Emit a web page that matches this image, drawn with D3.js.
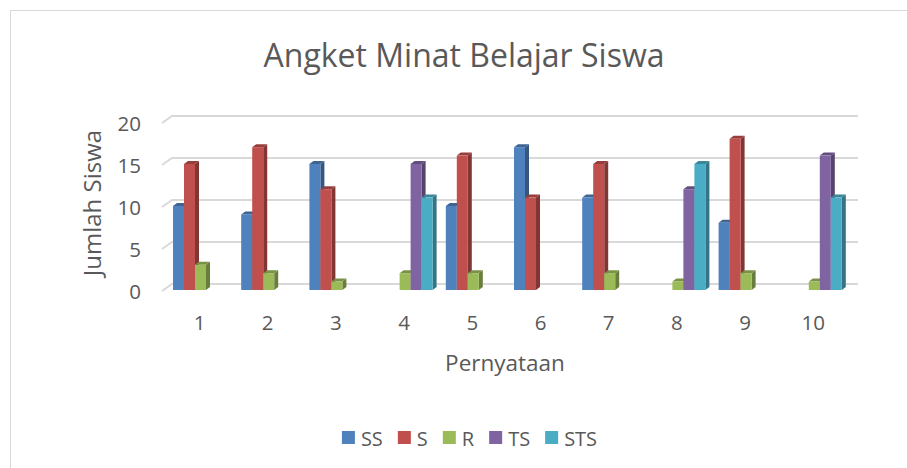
<!DOCTYPE html>
<html>
<head>
<meta charset="utf-8">
<script src="https://cdn.jsdelivr.net/npm/d3@7"></script>
<style>
  body { margin: 0; background: #fff; }
  text { font-family: "Open Sans", sans-serif; fill: #595959; }
</style>
</head>
<body>
<svg></svg>
<script>
// Chart data
const categories = ["1", "2", "3", "4", "5", "6", "7", "8", "9", "10"];
const seriesNames = ["SS", "S", "R", "TS", "STS"];
const ss  = [10, 9, 15, 0, 10, 17, 11, 0, 8, 0];
const s   = [15, 17, 12, 0, 16, 11, 15, 0, 18, 0];
const r   = [3, 2, 1, 2, 2, 0, 2, 1, 2, 1];
const ts  = [0, 0, 0, 15, 0, 0, 0, 12, 0, 16];
const sts = [0, 0, 0, 11, 0, 0, 0, 15, 0, 11];
const yTicks = [0, 5, 10, 15, 20];

const colors = ["#4f81bd", "#c0504d", "#9bbb59", "#8064a2", "#4bacc6"];
const seriesValues = [ss, s, r, ts, sts];

const width = 907;
const height = 468;

// 3D offsets (back wall vs front floor)
const depthX = 10;
const depthY = -7;
const barDX = 4;
const barDY = -3;

const svg = d3.select("svg")
    .attr("width", width)
    .attr("height", height);

// Chart border
svg.append("rect")
    .attr("x", 10.5)
    .attr("y", 10.5)
    .attr("width", 1000)
    .attr("height", 1000)
    .attr("fill", "none")
    .attr("stroke", "#d9d9d9")
    .attr("stroke-width", 1);

// Scales
const x = d3.scaleBand()
    .domain(categories)
    .range([166.4, 848.4]);

const groupWidth = 55;
const xInner = d3.scaleBand()
    .domain(seriesNames)
    .range([0, groupWidth]);

const y = d3.scaleLinear()
    .domain([0, 20])
    .range([290, 122]);

// Gridlines with slanted floor edge
const grid = svg.append("g");
yTicks.forEach(v => {
    const yf = y(v) + 1;
    grid.append("path")
        .attr("d", `M${162},${yf} L${162 + depthX},${yf + depthY} L${858},${yf + depthY}`)
        .attr("fill", "none")
        .attr("stroke", "#d9d9d9")
        .attr("stroke-width", 2);
});

// Y tick labels
svg.append("g")
    .selectAll("text")
    .data(yTicks)
    .join("text")
    .attr("x", 141)
    .attr("y", d => y(d) + 2)
    .attr("dy", "0.35em")
    .attr("text-anchor", "end")
    .style("font-size", "20.5px")
    .text(d => d);

// Bars
const barData = [];
categories.forEach((c, i) => {
    seriesNames.forEach((sn, j) => {
        const v = seriesValues[j][i];
        if (v > 0) barData.push({ cat: c, key: sn, value: v, color: colors[j] });
    });
});

const bars = svg.append("g")
    .selectAll("g")
    .data(barData)
    .join("g")
    .attr("transform", d => `translate(${x(d.cat) + (x.bandwidth() - groupWidth) / 2 + xInner(d.key)},0)`);

const bw = xInner.bandwidth();

// side face
bars.append("path")
    .attr("d", d => {
        const t = y(d.value), b = y(0);
        return `M${bw},${t} L${bw + barDX},${t + barDY} L${bw + barDX},${b + barDY} L${bw},${b} Z`;
    })
    .attr("fill", d => d3.color(d.color).darker(1.1));

// top face
bars.append("path")
    .attr("d", d => {
        const t = y(d.value);
        return `M0,${t} L${barDX},${t + barDY} L${bw + barDX},${t + barDY} L${bw},${t} Z`;
    })
    .attr("fill", d => d3.color(d.color).darker(0.7));

// front face
bars.append("rect")
    .attr("x", 0)
    .attr("y", d => y(d.value))
    .attr("width", bw)
    .attr("height", d => y(0) - y(d.value))
    .attr("fill", d => d.color);

// X tick labels
svg.append("g")
    .selectAll("text")
    .data(categories)
    .join("text")
    .attr("x", d => x(d) + x.bandwidth() / 2 - 1)
    .attr("y", 330)
    .attr("text-anchor", "middle")
    .style("font-size", "20.5px")
    .text(d => d);

// Title
svg.append("text")
    .attr("x", 464)
    .attr("y", 67)
    .attr("text-anchor", "middle")
    .style("font-size", "32px")
    .text("Angket Minat Belajar Siswa");

// Axis titles
svg.append("text")
    .attr("x", 505)
    .attr("y", 371)
    .attr("text-anchor", "middle")
    .style("font-size", "22.5px")
    .text("Pernyataan");

svg.append("text")
    .attr("transform", "translate(101,203) rotate(-90)")
    .attr("text-anchor", "middle")
    .style("font-size", "24px")
    .text("Jumlah Siswa");

// Legend
const legend = svg.append("g");
let lx = 0;
seriesNames.forEach((sn, i) => {
    const item = legend.append("g").attr("transform", `translate(${lx},0)`);
    item.append("rect")
        .attr("x", 0)
        .attr("y", 431)
        .attr("width", 13)
        .attr("height", 13)
        .attr("fill", colors[i]);
    const t = item.append("text")
        .attr("x", 19)
        .attr("y", 446)
        .style("font-size", "20px")
        .text(sn);
    lx += 19 + t.node().getComputedTextLength() + 15;
});
const legendWidth = lx - 15;
legend.attr("transform", `translate(${469.5 - legendWidth / 2},0)`);
</script>
</body>
</html>
